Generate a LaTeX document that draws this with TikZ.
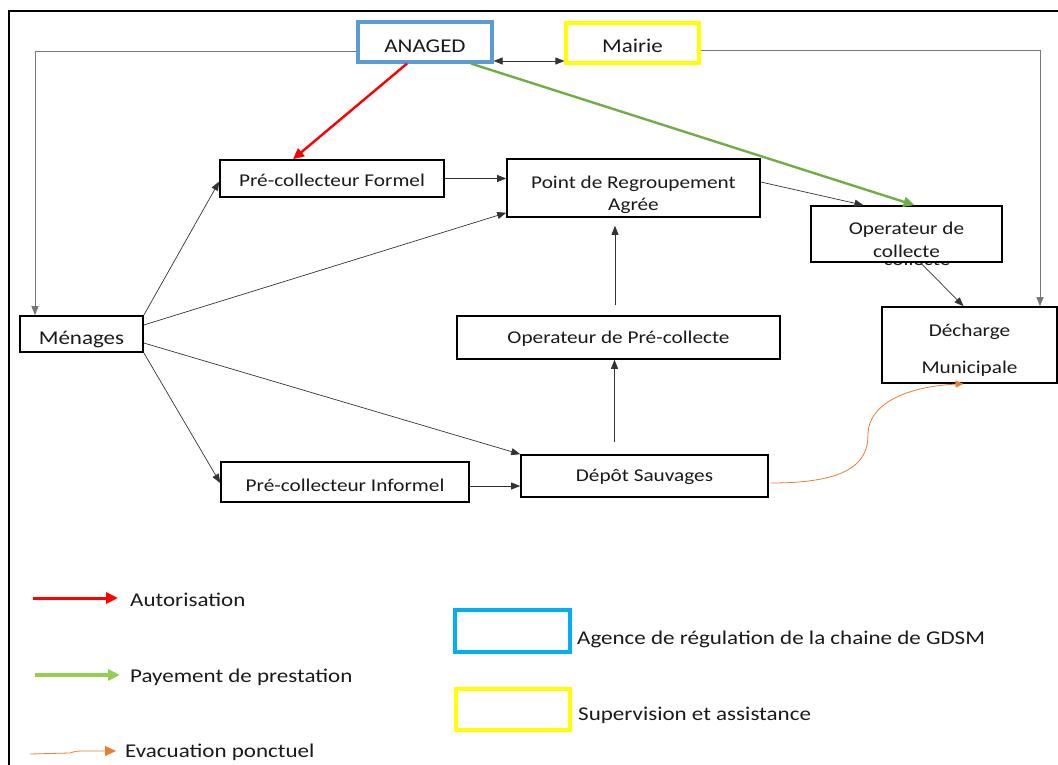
\documentclass[tikz,border=0pt]{standalone}
\usepackage{fontspec}
\setmainfont{Carlito}[FakeStretch=1.18]
\usetikzlibrary{arrows.meta,calc}
\definecolor{anablue}{HTML}{5B9BD5}
\definecolor{legblue}{HTML}{00B0F0}
\definecolor{myyellow}{HTML}{FFFF00}
\definecolor{mygreen}{HTML}{70AD47}
\definecolor{leggreen}{HTML}{92D050}
\definecolor{myorange}{HTML}{ED7D31}
\definecolor{txt}{HTML}{1A1A1A}
\definecolor{conn}{HTML}{333333}
\definecolor{grayline}{HTML}{777777}
\newcommand\dnrule[1]{\rule{0pt}{#1}}
\begin{document}
\begin{tikzpicture}[x=1pt,y=-1pt,
  every node/.style={font=\fontsize{18}{22.5}\selectfont, text=txt},
  bigfont/.style={font=\fontsize{19.5}{23}\selectfont},
  stepbox/.style={draw=black, line width=1.6pt, fill=white, inner sep=0pt, align=center},
  conn/.style={draw=conn, line width=0.7pt, -{Triangle[length=9pt,width=7pt]}},
  grayconn/.style={draw=grayline, line width=0.9pt, -{Triangle[length=9pt,width=7pt]}},
  labeltext/.style={anchor=base west, inner sep=0pt, bigfont}
]
\useasboundingbox (0,0) rectangle (1058,765);
% frame
\draw[line width=2pt] (9,766) -- (9,11) -- (1059,11);

% nodes
\node[stepbox, bigfont, draw=anablue, line width=3.2pt, minimum width=134pt, minimum height=40pt, text height=26pt, text depth=4pt] (anaged) at (425,42) {ANAGED};
\node[stepbox, bigfont, draw=myyellow, line width=3.2pt, minimum width=133pt, minimum height=40pt, text height=24pt, text depth=4pt] (mairie) at (632.5,43) {Mairie};
\node[stepbox, minimum width=224pt, minimum height=37pt, text height=19pt, text depth=4pt] (formel) at (332,178.5) {Pré-collecteur Formel};
\node[stepbox, minimum width=253pt, minimum height=58pt] (point) at (633.5,188) {\dnrule{26.5pt}Point de Regroupement\\Agrée};
% ghost text below operateur de collecte
\node[inner sep=0pt, anchor=base] (ghost) at (917,265.5) {collecte};
\node[stepbox, minimum width=191pt, minimum height=56pt] (opcol) at (906.5,234) {\dnrule{24.5pt}Operateur de\\collecte};
\node[stepbox, minimum width=175pt, minimum height=76pt] (dech) at (969.5,345) {\dnrule{23pt}Décharge\\[14.5pt]Municipale};
\node[stepbox, bigfont, minimum width=123pt, minimum height=36pt, text height=24pt, text depth=4pt] (men) at (81.5,334) {Ménages};
\node[stepbox, minimum width=323pt, minimum height=43pt, text height=15pt, text depth=4pt] (oppre) at (618.5,337.5) {Operateur de Pré-collecte};
\node[stepbox, minimum width=248pt, minimum height=40pt, text height=23.5pt, text depth=4pt] (informel) at (345,482) {Pré-collecteur Informel};
\node[stepbox, minimum width=247pt, minimum height=42pt, text height=15.5pt, text depth=4pt] (depot) at (644.5,476) {Dépôt Sauvages};

% ANAGED -> Menages (gray)
\coordinate (c1) at (35,51);
\draw[grayconn] ($(anaged.west)+(0,9)$) -- (c1) -- (c1 |- men.north);
% Mairie -> Decharge
\coordinate (c2) at (1040,50);
\draw[grayconn] (mairie.east |- c2) -- (c2) -- (c2 |- dech.north);
% ANAGED <-> Mairie
\draw[draw=conn, line width=0.7pt, {Triangle[length=9pt,width=7pt]}-{Triangle[length=9pt,width=7pt]}]
  ($(anaged.east)+(0,19)$) -- ($(mairie.west)+(0,18)$);
% red authorisation
\draw[red, line width=2.4pt, -{Triangle[length=11pt,width=10pt]}] ($(anaged.south)+(-18,0)$) -- ($(formel.north)+(-39,0)$);
% green payment
\draw[mygreen, line width=2.4pt, -{Triangle[length=11pt,width=10pt]}] ($(anaged.south)+(46,0)$) -- ($(opcol.north)+(8,0)$);

% flows
\draw[conn] (formel.east) -- (point.west |- formel.east);
\draw[conn] (men.north east) -- ($(formel.west)+(0,3)$);
\draw[conn] ($(men.east)+(0,-9)$) -- ($(point.south west)+(0,-5)$);
\draw[conn] ($(men.east)+(0,9)$) -- (depot.north west);
\draw[conn] (men.south east) -- ($(informel.west)+(0,1)$);
\draw[conn] ($(informel.east)+(0,4)$) -- ($(depot.west)+(0,10)$);
\coordinate (c3) at ($(depot.north)+(-30,-12)$);
\draw[conn] (c3) -- (c3 |- oppre.south);
\coordinate (c4) at ($(oppre.north)+(-3.5,-10)$);
\draw[conn, shorten >=8pt] (c4) -- (c4 |- point.south);
\draw[conn] ($(point.east)+(0,-6)$) -- ($(opcol.north)+(-43,0)$);
\draw[conn] ($(opcol.south)+(14,0)$) -- ($(dech.north)+(-6,0)$);
% orange evacuation
\draw[myorange, line width=0.8pt, -{Triangle[length=8pt,width=7pt]}]
  ($(depot.east)+(2,7)$) .. controls (845,483) and (868,465) .. (868,435)
  .. controls (868,400) and (915,386) .. ($(dech.south)+(-6,0)$);

% legend
\coordinate (l1a) at (33,598); \coordinate (l1b) at (118,598);
\draw[red, line width=3pt, -{Triangle[length=12pt,width=11pt]}] (l1a) -- (l1b);
\node[labeltext] (lab1) at (130,606) {Autorisation};
\coordinate (l2a) at (35,675); \coordinate (l2b) at (120,675);
\draw[leggreen, line width=3.5pt, -{Triangle[length=12pt,width=11pt]}] (l2a) -- (l2b);
\node[labeltext] (lab2) at (130,682) {Payement de prestation};
\coordinate (l3a) at (30,754); \coordinate (l3b) at (116,751);
\draw[myorange, line width=0.8pt, -{Triangle[length=11pt,width=10pt]}]
  (l3a) -- (70,753) .. controls (75,751) and (78,751) .. (85,751) -- (l3b);
\node[labeltext] (lab3) at (125,757.5) {Evacuation ponctuel};

\node[draw=legblue, line width=3.5pt, minimum width=115pt, minimum height=42pt, inner sep=0pt] (legb) at (512.5,631) {};
\node[labeltext] (lab4) at (577,644) {Agence de régulation de la chaine de GDSM};
\node[draw=myyellow, line width=3.5pt, minimum width=114pt, minimum height=41pt, inner sep=0pt] (legy) at (513,709.5) {};
\node[labeltext] (lab5) at (578,720) {Supervision et assistance};
\end{tikzpicture}
\end{document}
